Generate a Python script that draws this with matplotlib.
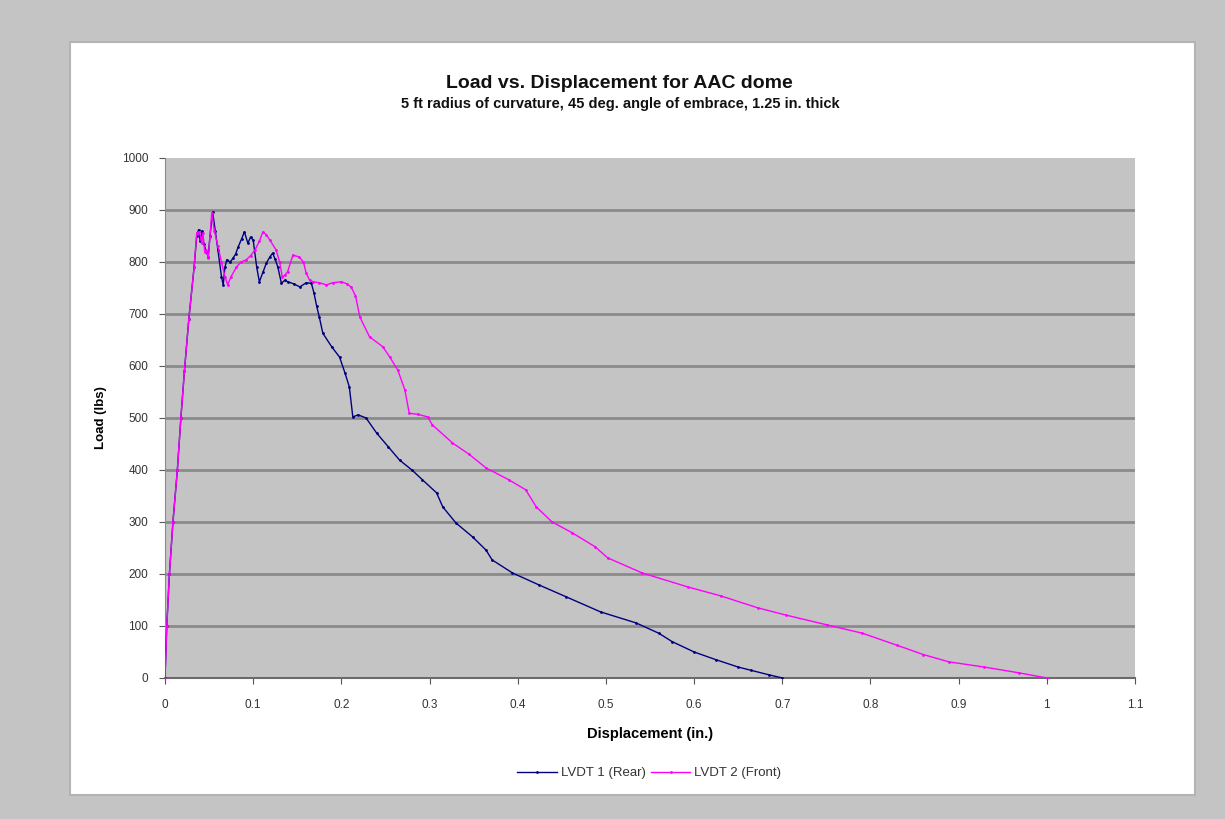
import matplotlib
matplotlib.use("Agg")
from matplotlib import pyplot as plt
from matplotlib.patches import Rectangle

plt.rcParams['font.family'] = ['Liberation Sans', 'DejaVu Sans']

# LVDT 1 (Rear)
rear_x = [0, 0.002, 0.005, 0.009, 0.014, 0.018, 0.022, 0.027, 0.033, 0.036,
          0.038, 0.040, 0.042, 0.044, 0.047, 0.049, 0.051, 0.054, 0.057, 0.060,
          0.064, 0.066, 0.068, 0.070, 0.074, 0.077, 0.080, 0.083, 0.087, 0.090,
          0.094, 0.097, 0.100, 0.104, 0.107, 0.111, 0.115, 0.119, 0.122, 0.125,
          0.128, 0.132, 0.136, 0.139, 0.146, 0.153, 0.160, 0.166, 0.169, 0.172,
          0.175, 0.179, 0.189, 0.198, 0.204, 0.209, 0.213, 0.219, 0.228, 0.240,
          0.253, 0.266, 0.280, 0.292, 0.308, 0.315, 0.330, 0.349, 0.364, 0.371,
          0.394, 0.424, 0.455, 0.494, 0.534, 0.560, 0.575, 0.600, 0.625, 0.650,
          0.664, 0.685, 0.700]
rear_y = [0, 100, 200, 300, 400, 500, 590, 690, 790, 850,
          862, 840, 860, 835, 820, 810, 850, 896, 860, 823,
          772, 756, 790, 804, 800, 807, 815, 829, 845, 858,
          836, 848, 842, 790, 762, 780, 798, 810, 817, 805,
          790, 759, 765, 762, 758, 752, 760, 759, 740, 715,
          694, 663, 637, 617, 587, 560, 502, 506, 500, 471,
          445, 419, 400, 381, 356, 329, 298, 271, 246, 227,
          202, 179, 156, 127, 106, 86, 70, 50, 35, 21,
          15, 6, 0]

# LVDT 2 (Front)
front_x = [0, 0.002, 0.005, 0.009, 0.014, 0.018, 0.022, 0.027, 0.033, 0.036,
           0.039, 0.0415, 0.043, 0.045, 0.047, 0.049, 0.051, 0.053, 0.056, 0.060,
           0.064, 0.068, 0.071, 0.075, 0.081, 0.086, 0.092, 0.097, 0.102, 0.107,
           0.111, 0.115, 0.119, 0.126, 0.130, 0.133, 0.136, 0.139, 0.145, 0.152,
           0.157, 0.160, 0.164, 0.168, 0.175, 0.183, 0.190, 0.200, 0.206, 0.211,
           0.216, 0.221, 0.232, 0.247, 0.255, 0.264, 0.272, 0.277, 0.287, 0.298,
           0.303, 0.326, 0.345, 0.364, 0.390, 0.409, 0.421, 0.439, 0.462, 0.488,
           0.502, 0.541, 0.593, 0.630, 0.672, 0.704, 0.751, 0.791, 0.830, 0.860,
           0.889, 0.929, 0.968, 1.0]
front_y = [0, 100, 200, 300, 400, 500, 590, 690, 790, 856,
           858, 836, 855, 820, 823, 807, 849, 894, 860, 830,
           800, 772, 756, 772, 790, 800, 804, 812, 823, 840,
           858, 852, 842, 823, 800, 771, 775, 781, 813, 810,
           800, 779, 765, 762, 760, 756, 760, 762, 758, 752,
           735, 694, 656, 637, 617, 592, 554, 509, 507, 502,
           487, 452, 430, 404, 381, 362, 329, 300, 279, 252,
           231, 202, 175, 158, 135, 121, 102, 86, 63, 45,
           31, 21, 10, 0]

x_ticks = [0, 0.1, 0.2, 0.3, 0.4, 0.5, 0.6, 0.7, 0.8, 0.9, 1.0, 1.1]
x_labels = ["0", "0.1", "0.2", "0.3", "0.4", "0.5", "0.6", "0.7", "0.8", "0.9", "1", "1.1"]
y_ticks = [0, 100, 200, 300, 400, 500, 600, 700, 800, 900, 1000]

fig = plt.figure(figsize=(12.25, 8.19), dpi=100)
fig.patch.set_facecolor('#c4c4c4')
panel = Rectangle((0.0571, 0.0293), 0.9184, 0.9194, transform=fig.transFigure,
                  facecolor='white', edgecolor='#b4b4b4', linewidth=1.5, zorder=-10)
fig.add_artist(panel)

ax = fig.add_axes([0.1347, 0.1722, 0.7918, 0.6349])
ax.set_zorder(1)
ax.set_facecolor('#c4c4c4')

for yv in y_ticks[1:-1]:
    ax.axhline(yv, color='#8a8a8a', linewidth=2.0, zorder=1)

ax.plot(rear_x, rear_y, color='#000080', linewidth=1.0, marker='.', markersize=2,
        label='LVDT 1 (Rear)', zorder=3)
ax.plot(front_x, front_y, color='#ff00ff', linewidth=1.0, marker='.', markersize=2,
        label='LVDT 2 (Front)', zorder=3)

ax.set_xlim(0, 1.1)
ax.set_ylim(0, 1000)
ax.set_xticks(x_ticks)
ax.set_xticklabels(x_labels)
ax.set_yticks(y_ticks)
ax.tick_params(axis='both', labelsize=8.5, colors='#555555', length=4, width=0.8)
ax.tick_params(axis='x', pad=11)
ax.tick_params(axis='y', pad=8)
ax.tick_params(axis='both', labelcolor='#333333')

for side in ['top', 'right']:
    ax.spines[side].set_visible(False)
ax.spines['left'].set_color('#8a8a8a')
ax.spines['bottom'].set_color('#6a6a6a')
ax.spines['bottom'].set_linewidth(1.5)

ax.set_xlabel('Displacement (in.)', fontsize=10.5, fontweight='bold', labelpad=12)
ax.set_ylabel('Load (lbs)', fontsize=9.5, fontweight='bold', labelpad=11)

fig.text(0.506, 0.898, 'Load vs. Displacement for AAC dome', ha='center', va='center',
         fontsize=14, fontweight='bold', color='#111111')
fig.text(0.506, 0.873, '5 ft radius of curvature, 45 deg. angle of embrace, 1.25 in. thick',
         ha='center', va='center', fontsize=10.5, fontweight='bold', color='#111111')

fig.legend(loc='center', bbox_to_anchor=(0.53, 0.056), ncol=2, frameon=False,
           fontsize=9.5, handlelength=3, columnspacing=0.4, handletextpad=0.3,
           labelcolor='#333333')

fig.savefig('out.png', dpi=100, facecolor=fig.get_facecolor())
